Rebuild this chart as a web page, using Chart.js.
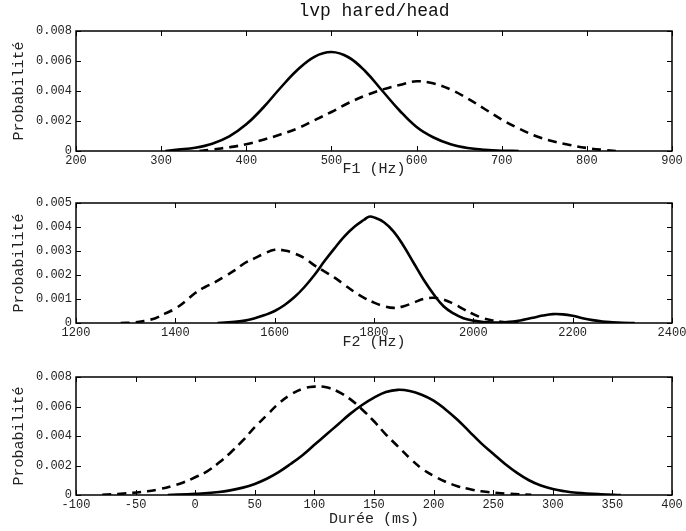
<!DOCTYPE html>
<html><head><meta charset="utf-8">
<script src="https://cdn.jsdelivr.net/npm/chart.js@4"></script>
<style>
html,body{margin:0;padding:0;background:#fff;width:686px;height:531px;overflow:hidden}
canvas{position:absolute;left:0}
</style></head><body>
<canvas id="c1"></canvas><canvas id="c2"></canvas><canvas id="c3"></canvas>
<script>
// ---------- data ----------
const chartTitle = 'lvp hared/head';
const yLabel = 'Probabilité';
const xLabel1 = 'F1 (Hz)';
const xLabel2 = 'F2 (Hz)';
const xLabel3 = 'Durée (ms)';

const f1Ticks = [200, 300, 400, 500, 600, 700, 800, 900];
const f1YTicks = [0, 0.002, 0.004, 0.006, 0.008];
const f1SolidX = [305, 320, 340, 360, 380, 400, 420, 440, 460, 480, 500, 520, 540, 560, 580, 600, 620, 640, 660, 680, 700, 720];
const f1SolidY = [0, 0.00009, 0.00022, 0.00049, 0.00098, 0.00178, 0.0029, 0.0042, 0.0054, 0.00628, 0.0066, 0.00625, 0.0053, 0.004, 0.0027, 0.0016, 0.0009, 0.00045, 0.0002, 0.00008, 0.00002, 0];
const f1DashX = [345, 360, 380, 400, 420, 440, 460, 480, 500, 520, 540, 560, 580, 600, 620, 640, 660, 680, 700, 720, 740, 760, 780, 800, 820, 835];
const f1DashY = [0, 0.0001, 0.00025, 0.00045, 0.00075, 0.0011, 0.0015, 0.00205, 0.0026, 0.0032, 0.0037, 0.0041, 0.0044, 0.00465, 0.0045, 0.0041, 0.0035, 0.0028, 0.0021, 0.0015, 0.001, 0.00065, 0.0004, 0.0002, 0.00007, 0];

const f2Ticks = [1200, 1400, 1600, 1800, 2000, 2200, 2400];
const f2YTicks = [0, 0.001, 0.002, 0.003, 0.004, 0.005];
const f2SolidX = [1485, 1500, 1520, 1540, 1560, 1580, 1600, 1620, 1640, 1660, 1680, 1700, 1720, 1740, 1760, 1780, 1790, 1800, 1820, 1840, 1860, 1880, 1900, 1920, 1940, 1960, 1980, 2000, 2020, 2040, 2060, 2080, 2100, 2120, 2140, 2160, 2180, 2200, 2220, 2240, 2260, 2280, 2300, 2325];
const f2SolidY = [0, 0.00002, 0.00005, 0.0001, 0.0002, 0.00033, 0.0005, 0.00075, 0.00108, 0.0015, 0.002, 0.00257, 0.0031, 0.0036, 0.004, 0.0043, 0.00443, 0.0044, 0.0042, 0.0038, 0.0032, 0.0025, 0.0018, 0.0012, 0.0007, 0.0004, 0.0002, 0.0001, 0.00004, 0.00002, 0.00003, 0.00006, 0.00013, 0.00022, 0.00031, 0.00037, 0.00036, 0.0003, 0.0002, 0.00012, 0.00006, 0.00003, 0.00001, 0];
const f2DashX = [1290, 1320, 1340, 1360, 1380, 1400, 1420, 1440, 1460, 1480, 1500, 1520, 1540, 1560, 1580, 1600, 1620, 1640, 1660, 1680, 1700, 1720, 1740, 1760, 1780, 1800, 1820, 1840, 1860, 1880, 1900, 1920, 1940, 1960, 1980, 2000, 2020, 2040, 2060, 2090];
const f2DashY = [0, 0.00003, 0.0001, 0.0002, 0.0004, 0.0006, 0.0009, 0.00125, 0.0015, 0.0017, 0.00195, 0.0022, 0.0025, 0.0027, 0.0029, 0.00305, 0.00302, 0.0029, 0.0027, 0.0024, 0.00215, 0.0019, 0.0016, 0.0013, 0.00105, 0.00085, 0.0007, 0.00063, 0.0007, 0.00085, 0.001, 0.00105, 0.00098, 0.0008, 0.00058, 0.00037, 0.0002, 0.0001, 0.00004, 0];

const durTicks = [-100, -50, 0, 50, 100, 150, 200, 250, 300, 350, 400];
const durYTicks = [0, 0.002, 0.004, 0.006, 0.008];
const durSolidX = [-23, 0, 20, 40, 50, 60, 70, 80, 90, 100, 110, 120, 130, 140, 150, 160, 170, 180, 190, 200, 210, 220, 230, 240, 250, 260, 270, 280, 290, 300, 310, 320, 340, 357];
const durSolidY = [0, 0.00008, 0.0002, 0.0005, 0.00075, 0.0011, 0.00155, 0.0021, 0.0027, 0.0034, 0.0041, 0.0048, 0.0055, 0.0061, 0.0066, 0.00698, 0.00713, 0.00705, 0.0068, 0.0064, 0.0058, 0.0051, 0.0043, 0.0035, 0.0028, 0.0021, 0.0015, 0.001, 0.00064, 0.0004, 0.00025, 0.00015, 0.00005, 0];
const durDashX = [-78, -60, -40, -30, -20, -10, 0, 10, 20, 30, 40, 50, 60, 70, 80, 90, 100, 110, 120, 130, 140, 150, 160, 170, 180, 190, 200, 210, 220, 230, 240, 260, 282];
const durDashY = [0.00002, 0.0001, 0.00025, 0.0004, 0.0006, 0.00085, 0.0012, 0.0016, 0.0022, 0.0029, 0.0037, 0.0046, 0.0054, 0.0062, 0.0068, 0.0072, 0.00735, 0.0073, 0.007, 0.0065, 0.0058, 0.005, 0.0041, 0.0033, 0.0025, 0.0018, 0.0013, 0.0009, 0.0006, 0.0004, 0.00025, 0.0001, 0.00002];

// ---------- drawing ----------
Chart.defaults.font.family = "'Liberation Mono', 'Courier New', monospace";
Chart.defaults.color = '#222';

const frame = {
  id: 'frame',
  afterDatasetsDraw(chart) {
    const {ctx, chartArea: a, scales: {x, y}} = chart;
    const L = 5;
    ctx.save();
    ctx.strokeStyle = '#000';
    ctx.lineWidth = 1;
    ctx.beginPath();
    x.ticks.forEach(t => {
      const p = Math.round(x.getPixelForValue(t.value)) + 0.5;
      ctx.moveTo(p, a.bottom); ctx.lineTo(p, a.bottom - L);
      ctx.moveTo(p, a.top); ctx.lineTo(p, a.top + L);
    });
    y.ticks.forEach(t => {
      const p = Math.round(y.getPixelForValue(t.value)) + 0.5;
      ctx.moveTo(a.left, p); ctx.lineTo(a.left + L, p);
      ctx.moveTo(a.right, p); ctx.lineTo(a.right - L, p);
    });
    ctx.stroke();
    ctx.lineWidth = 1.5;
    ctx.strokeRect(a.left, a.top, a.right - a.left, a.bottom - a.top);
    ctx.restore();
  }
};

function series(xs, ys, dashed) {
  return {
    data: xs.map((v, i) => ({x: v, y: ys[i]})),
    borderColor: '#000', borderWidth: 2.6,
    borderDash: dashed ? [9, 6] : [],
    pointRadius: 0, fill: false,
    tension: 0.4
  };
}

const W = 686, AREA_LEFT = 76, AREA_RIGHT = 672;
const TICK_SIZE = 12, LAB_SIZE = 15, LAB_LH = LAB_SIZE * 1.2;
const TITLE_SIZE = 18, TITLE_LH = TITLE_SIZE * 1.2;

function makeChart(id, c) {
  const cv = document.getElementById(id);
  cv.width = W; cv.height = c.h; cv.style.top = c.top + 'px';
  const xAxisH = c.top + c.h - c.areaBottom;
  const titlePadTop = 0;
  new Chart(cv, {
    type: 'line',
    data: {datasets: c.datasets},
    options: {
      responsive: false, animation: false, devicePixelRatio: 1,
      layout: {autoPadding: false, padding: {left: 0, right: W - AREA_RIGHT, bottom: 0,
        top: c.title ? 0 : c.areaTop - c.top}},
      plugins: {
        legend: {display: false}, tooltip: {enabled: false},
        title: c.title ? {display: true, fullSize: false, text: c.title, color: '#111',
          font: {size: TITLE_SIZE, weight: 'normal'},
          padding: {top: titlePadTop, bottom: (c.areaTop - c.top) - TITLE_LH - titlePadTop}} : {display: false}
      },
      scales: {
        x: {
          type: 'linear', min: c.xTicks[0], max: c.xTicks[c.xTicks.length - 1],
          afterBuildTicks: s => { s.ticks = c.xTicks.map(v => ({value: v})); },
          afterFit: s => { s.height = xAxisH; s.paddingLeft = 0; s.paddingRight = 0; },
          grid: {display: false, drawTicks: false}, border: {display: false},
          ticks: {padding: 3, autoSkip: false, maxRotation: 0, font: {size: TICK_SIZE}, color: '#222',
            callback: v => String(v)},
          title: {display: true, text: c.xLabel, color: '#222', font: {size: LAB_SIZE},
            padding: {top: 0, bottom: xAxisH - LAB_LH / 2 - c.xTitleOff}}
        },
        y: {
          type: 'linear', min: 0, max: c.yTicks[c.yTicks.length - 1],
          afterBuildTicks: s => { s.ticks = c.yTicks.map(v => ({value: v})); },
          afterFit: s => { s.width = AREA_LEFT; s.paddingTop = 0; s.paddingBottom = 0; },
          grid: {display: false, drawTicks: false}, border: {display: false},
          ticks: {padding: 4, autoSkip: false, font: {size: TICK_SIZE}, color: '#222',
            callback: v => v === 0 ? '0' : v.toFixed(3)},
          title: {display: true, text: yLabel, color: '#222', font: {size: LAB_SIZE},
            padding: {top: 19 - LAB_LH / 2, bottom: 0}}
        }
      }
    },
    plugins: [frame]
  });
}

makeChart('c1', {top: 0, h: 192, areaTop: 31, areaBottom: 151, xTitleOff: 18, title: chartTitle,
  xTicks: f1Ticks, yTicks: f1YTicks, xLabel: xLabel1,
  datasets: [series(f1SolidX, f1SolidY, false), series(f1DashX, f1DashY, true)]});
makeChart('c2', {top: 192, h: 173, areaTop: 203, areaBottom: 323, xTitleOff: 19,
  xTicks: f2Ticks, yTicks: f2YTicks, xLabel: xLabel2,
  datasets: [series(f2SolidX, f2SolidY, false), series(f2DashX, f2DashY, true)]});
makeChart('c3', {top: 365, h: 166, areaTop: 377, areaBottom: 495, xTitleOff: 24,
  xTicks: durTicks, yTicks: durYTicks, xLabel: xLabel3,
  datasets: [series(durSolidX, durSolidY, false), series(durDashX, durDashY, true)]});
</script>
</body></html>
